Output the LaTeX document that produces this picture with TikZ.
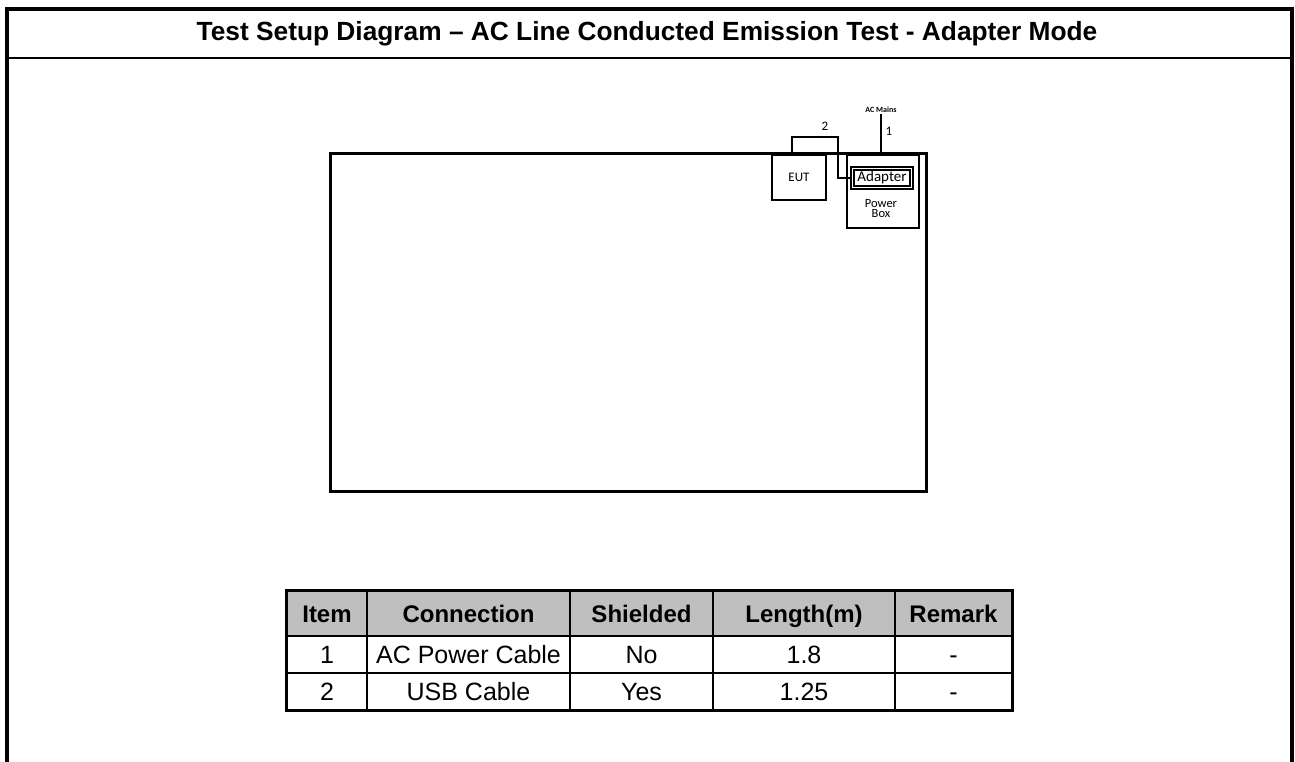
\documentclass[tikz,border=0pt]{standalone}
\usepackage{fontspec}
\setmainfont{Liberation Sans}
\newfontfamily\calfont{Carlito}
\definecolor{hdrgray}{RGB}{191,191,191}
\begin{document}
\begin{tikzpicture}[x=1pt,y=-1pt,
  frame/.style={line width=4pt},
  thinbox/.style={draw, line width=2.6pt, inner sep=0pt},
  cable/.style={line width=2.6pt},
  cell/.style={draw, line width=1.8pt, inner sep=0pt, minimum height=#1, text height=18pt, text depth=0pt, font=\fontsize{25}{28}\selectfont},
  hcell/.style={cell=45pt, fill=hdrgray, text height=17.5pt, font=\fontsize{24}{28}\selectfont\bfseries},
  small/.style={font=\calfont\fontsize{13}{14}\selectfont, inner sep=0pt}
]
\useasboundingbox (0,0) rectangle (1295,762);
% outer frame
\draw[frame] (7,764) -- (7,9) -- (1292,9) -- (1292,764);
\draw[line width=2.5pt] (7,58) -- (1292,58);
\node[font=\fontsize{26.3}{30}\selectfont\bfseries] (title) at (647,33.5) {Test Setup Diagram -- AC Line Conducted Emission Test - Adapter Mode};

% test table area
\node[thinbox, minimum width=596pt, minimum height=338pt, anchor=north west] (area) at (329,152) {};
\node[thinbox, minimum width=54pt, minimum height=45pt, small] (eut) at (799,177.5) {EUT};
\node[thinbox, minimum width=72pt, minimum height=73pt] (pbox) at (883,191.5) {};
\node[draw, double, double distance=1pt, line width=1.7pt, minimum width=59pt, minimum height=19pt, inner sep=0pt, font=\calfont\fontsize{15}{16}\selectfont] (adapter) at (882,178) {Adapter};
\node[small, align=center, font=\calfont\fontsize{12.5}{10}\selectfont] (pwr) at (881,209) {Power\\Box};
\node[font=\calfont\bfseries\fontsize{8}{9}\selectfont, inner sep=1pt] (acm) at (881,110) {AC Mains};
\coordinate (bend) at (838,137);
\draw[cable] ([xshift=-7pt]eut.north) |- (bend) |- (adapter.west);
\draw[cable] (acm.south) -- (acm.south |- pbox.north);
\node[small] (lab1) at (889,131) {1};
\node[small] (lab2) at (825,126) {2};

% cable table
\node[hcell, minimum width=80pt] (h1) at (327,613.5) {Item};
\node[hcell, minimum width=203pt] (h2) at (468.5,613.5) {Connection};
\node[hcell, minimum width=143pt] (h3) at (641.5,613.5) {Shielded};
\node[hcell, minimum width=182pt] (h4) at (804,613.5) {Length(m)};
\node[hcell, minimum width=117pt] (h5) at (953.5,613.5) {Remark};
\node[cell=37pt, minimum width=80pt] (a1) at (327,654.5) {1};
\node[cell=37pt, minimum width=203pt] (a2) at (468.5,654.5) {AC Power Cable};
\node[cell=37pt, minimum width=143pt] (a3) at (641.5,654.5) {No};
\node[cell=37pt, minimum width=182pt] (a4) at (804,654.5) {1.8};
\node[cell=37pt, minimum width=117pt] (a5) at (953.5,654.5) {-};
\node[cell=37pt, minimum width=80pt] (b1) at (327,691.5) {2};
\node[cell=37pt, minimum width=203pt] (b2) at (468.5,691.5) {USB Cable};
\node[cell=37pt, minimum width=143pt] (b3) at (641.5,691.5) {Yes};
\node[cell=37pt, minimum width=182pt] (b4) at (804,691.5) {1.25};
\node[cell=37pt, minimum width=117pt] (b5) at (953.5,691.5) {-};
\draw[line width=2.8pt] (h1.north west) rectangle (b5.south east);
\end{tikzpicture}
\end{document}
